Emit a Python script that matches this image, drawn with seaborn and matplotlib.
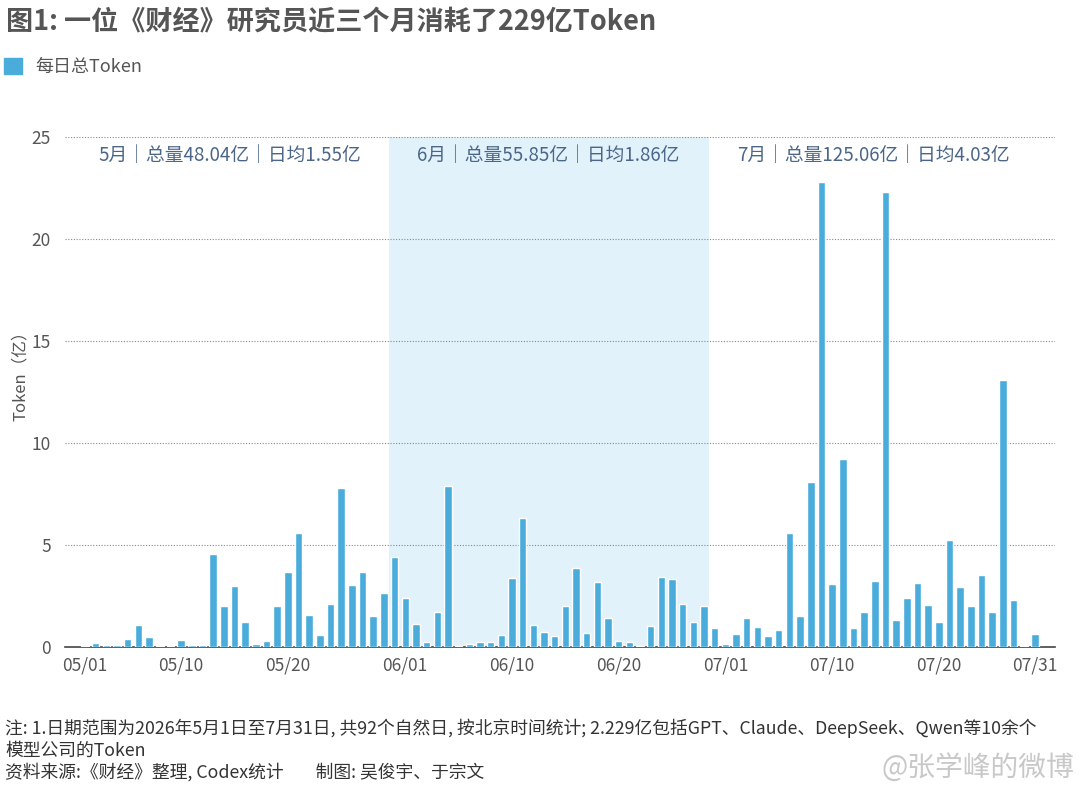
import matplotlib
matplotlib.use("Agg")
import matplotlib.pyplot as plt
from matplotlib.patches import Patch
import seaborn as sns
import pandas as pd

# daily token usage (亿), one bar per day as drawn in the chart
may_vals = [0.07, 0.21, 0.11, 0.11, 0.39, 1.10, 0.48, 0.07, 0.07, 0.33,
            0.11, 0.11, 4.57, 2.03, 3.00, 1.21, 0.15, 0.30, 2.00, 3.69,
            5.57, 1.59, 0.59, 2.13, 7.79, 3.02, 3.69, 1.54, 2.66]
jun_vals = [4.43, 2.43, 1.15, 0.25, 1.74, 7.90, 0.07, 0.15, 0.25, 0.25,
            0.59, 3.39, 6.31, 1.10, 0.74, 0.52, 2.00, 3.90, 0.70, 3.21,
            1.44, 0.30, 0.25, 0.07, 1.03, 3.44, 3.33, 2.13, 1.25, 2.03]
jul_vals = [0.92, 0.15, 0.62, 1.44, 0.97, 0.52, 0.85, 5.57, 1.54, 8.11,
            22.8, 3.10, 9.20, 0.92, 1.74, 3.26, 22.3, 1.33, 2.43, 3.16,
            2.07, 1.21, 5.25, 2.95, 2.00, 3.51, 1.74, 13.1, 2.33, 0.07,
            0.62]

tick_pos = [0, 9, 19, 30, 40, 50, 60, 70, 80, 89]
tick_labels = ["05/01", "05/10", "05/20", "06/01", "06/10", "06/20",
               "07/01", "07/10", "07/20", "07/31"]

month_notes = ["5月｜总量48.04亿｜日均1.55亿",
               "6月｜总量55.85亿｜日均1.86亿",
               "7月｜总量125.06亿｜日均4.03亿"]
note_pos = [13.6, 43.4, 73.9]

title = "图1: 一位《财经》研究员近三个月消耗了229亿Token"
legend_label = "每日总Token"
ylabel = "Token（亿）"
foot1 = "注: 1.日期范围为2026年5月1日至7月31日, 共92个自然日, 按北京时间统计; 2.229亿包括GPT、Claude、DeepSeek、Qwen等10余个"
foot2 = "模型公司的Token"
foot3 = "资料来源:《财经》整理, Codex统计        制图: 吴俊宇、于宗文"
watermark = "@张学峰的微博"

values = may_vals + jun_vals + jul_vals
df = pd.DataFrame({"day": list(range(len(values))), "token": values})

BAR = "#4aacdb"
SHADE = "#e1f2fb"
GREY = "#555555"
NOTE = "#4b6688"

sns.set_theme(style="white")
plt.rcParams["font.family"] = ["Noto Sans CJK SC", "DejaVu Sans"]

fig = plt.figure(figsize=(10.8, 7.94), dpi=100)
ax = fig.add_axes([0.060, 0.185, 0.917, 0.6425])

n_may = len(may_vals)
n_jun = len(jun_vals)
ax.axvspan(n_may - 0.5, n_may + n_jun - 0.5, color=SHADE, zorder=0, lw=0)

sns.barplot(data=df, x="day", y="token", color=BAR, width=0.7,
            saturation=1, ax=ax, zorder=3)

ax.set_xlim(-1.9, 90.9)
ax.set_ylim(0, 25)
ax.set_yticks([0, 5, 10, 15, 20, 25])
for yv in [5, 10, 15, 20, 25]:
    ax.axhline(yv, color="#888888", lw=0.8, ls=(0, (1, 1.5)), zorder=1)

ax.set_xticks(tick_pos)
ax.set_xticklabels(tick_labels)
ax.tick_params(axis="both", length=0, labelsize=12.5, colors=GREY)
ax.tick_params(axis="x", pad=7)
ax.tick_params(axis="y", pad=10)
ax.set_xlabel("")
ax.set_ylabel(ylabel, fontsize=12, color=GREY)
ax.yaxis.set_label_coords(-0.036, 0.54)

for s in ["top", "right", "left"]:
    ax.spines[s].set_visible(False)
ax.spines["bottom"].set_color("#444444")
ax.spines["bottom"].set_linewidth(1.2)

for txt, xp in zip(month_notes, note_pos):
    ax.text(xp, 24.1, txt, ha="center", va="center", fontsize=13.5,
            color=NOTE, zorder=4)

fig.text(0.006, 0.972, title, fontsize=19.5, fontweight="bold", color=GREY,
         ha="left", va="center")
fig.legend(handles=[Patch(color=BAR)], labels=[legend_label],
           loc="center left", bbox_to_anchor=(0.004, 0.916), frameon=False,
           fontsize=13, handlelength=1.0, handleheight=1.0,
           handletextpad=0.7, labelcolor=GREY, borderpad=0,
           borderaxespad=0)

fig.text(0.005, 0.083, foot1, fontsize=12.8, color="#333333", ha="left",
         va="center")
fig.text(0.005, 0.055, foot2, fontsize=12.8, color="#333333", ha="left",
         va="center")
fig.text(0.005, 0.027, foot3, fontsize=12.8, color="#333333", ha="left",
         va="center")
fig.text(0.995, 0.033, watermark, fontsize=20, color="#bbbbbb", ha="right",
         va="center", alpha=0.8)

fig.savefig("out.png", dpi=100)
